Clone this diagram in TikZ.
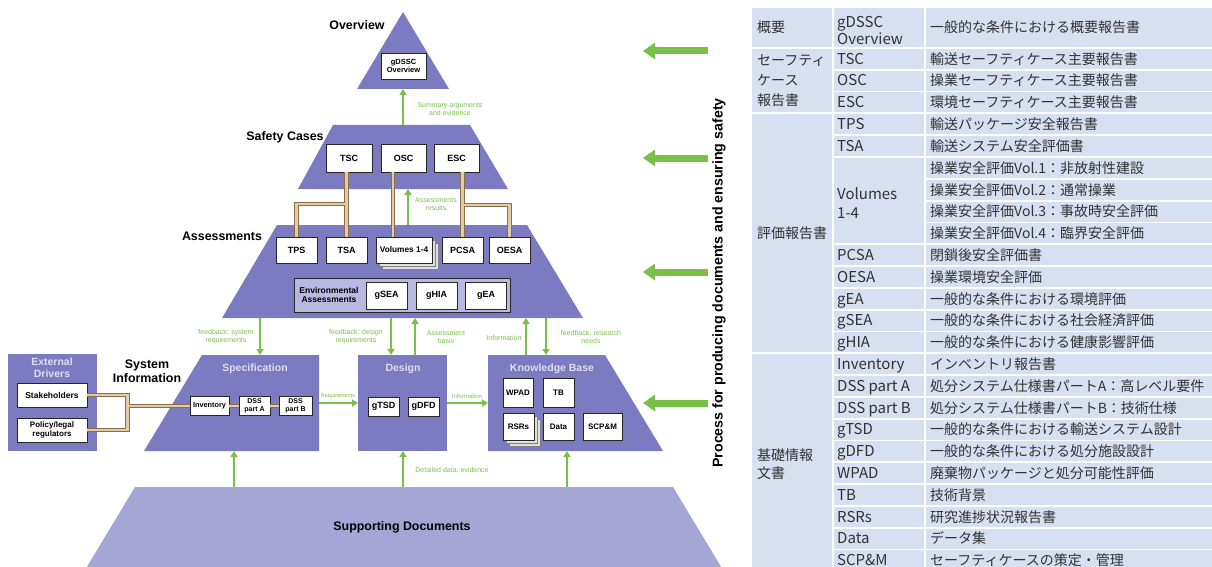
\documentclass[tikz,border=0pt]{standalone}
\usepackage{fontspec}
\setmainfont{Liberation Sans}
\newfontfamily\jp{Noto Sans CJK JP}
\usetikzlibrary{arrows.meta,calc}
\definecolor{pur}{RGB}{124,122,192}
\definecolor{purlight}{RGB}{165,165,214}
\definecolor{envfill}{RGB}{184,184,226}
\definecolor{titlec}{RGB}{222,222,244}
\definecolor{grn}{RGB}{122,192,72}
\definecolor{tanout}{RGB}{140,110,72}
\definecolor{tanin}{RGB}{224,204,166}
\definecolor{cellc}{RGB}{214,224,241}
\definecolor{tx}{RGB}{50,50,50}
\begin{document}
\begin{tikzpicture}[x=1pt,y=-1pt,
  box/.style={draw=black!85,line width=0.9pt,fill=white,font=\bfseries\fontsize{9}{10}\selectfont,inner sep=0pt,align=center},
  tier/.style={font=\bfseries\fontsize{12.4}{14}\selectfont,text=black,align=center},
  ttl/.style={font=\bfseries\fontsize{10.5}{12}\selectfont,text=titlec,align=center},
  glab/.style={font=\fontsize{7}{8}\selectfont,text=grn,align=center,inner sep=0pt},
  garrow/.style={draw=grn,line width=1.6pt,-{Triangle[length=6pt,width=7pt]}},
  bigarrow/.style={draw=grn,line width=7pt,-{Triangle[length=12pt,width=16pt]}},
  tanO/.style={draw=tanout,line width=4.4pt},
  tanI/.style={draw=tanin,line width=2.2pt},
  shad/.style={draw=black!50,fill=black!12,line width=0.6pt},
  sep/.style={draw=white,line width=1.8pt},
  tjp/.style={font=\jp\fontsize{14}{16}\selectfont,text=tx,anchor=base west,inner sep=0pt},
  tlat/.style={font=\jp\fontsize{15}{16}\selectfont,text=tx,anchor=base west,inner sep=0pt},
]
\useasboundingbox (0,0) rectangle (1212,567);

% ---------- tiers ----------
\fill[pur] (403,12) -- (449,89) -- (357,89) -- cycle;
\fill[pur] (333,125) -- (470,125) -- (508,189) -- (298,189) -- cycle;
\fill[pur] (277,225) -- (527,225) -- (583,318) -- (222,318) -- cycle;
\fill[pur] (202,355) -- (319,355) -- (319,451) -- (144,451) -- cycle;
\fill[pur] (358,355) rectangle (447,451);
\fill[pur] (488,355) -- (605,355) -- (663,451) -- (488,451) -- cycle;
\fill[pur] (8,354) rectangle (97,451);
\fill[purlight] (135,487) -- (673,487) -- (723,570) -- (85,570) -- cycle;

% ---------- tier labels ----------
\node[tier] (tOver) at (357,25) {Overview};
\node[tier] (tSafe) at (285,137) {Safety Cases};
\node[tier] (tAss) at (222,236) {Assessments};
\node[tier] (tSys) at (147,371) {System\\Information};
\node[tier] (tSup) at (402,527) {Supporting Documents};
\node[ttl] (tExt) at (52,368) {External\\Drivers};
\node[ttl] (tSpec) at (255,369) {Specification};
\node[ttl] (tDes) at (403,369) {Design};
\node[ttl] (tKB) at (552,369) {Knowledge Base};

% ---------- stacked shadows ----------
\draw[shad] (382,243) rectangle (438,269);
\draw[shad] (379,240) rectangle (435,266);
\draw[shad] (509,419) rectangle (540,446);
\draw[shad] (506,416) rectangle (537,443);

% ---------- boxes ----------
\node[box,minimum width=45,minimum height=26,font=\bfseries\fontsize{7.5}{8.5}\selectfont] (gdssc) at (403.5,66) {gDSSC\\Overview};
\node[box,minimum width=46,minimum height=28] (tsc) at (349,158) {TSC};
\node[box,minimum width=45,minimum height=28] (osc) at (403.5,158) {OSC};
\node[box,minimum width=45,minimum height=28] (esc) at (456.5,158) {ESC};
\node[box,minimum width=41,minimum height=26] (tps) at (296.5,250) {TPS};
\node[box,minimum width=41,minimum height=26] (tsa) at (346.5,250) {TSA};
\node[box,minimum width=56,minimum height=26,font=\bfseries\fontsize{8.3}{9}\selectfont] (vol) at (404,250) {Volumes 1-4};
\node[box,minimum width=41,minimum height=26] (pcsa) at (462.5,250) {PCSA};
\node[box,minimum width=41,minimum height=26] (oesa) at (509.5,250) {OESA};
\node[box,fill=envfill,minimum width=216,minimum height=34] (envbox) at (402,295) {};
\node[font=\bfseries\fontsize{8.5}{9.5}\selectfont,align=center,inner sep=0pt] (envtxt) at (329,295) {Environmental\\Assessments};
\node[box,minimum width=41,minimum height=27] (gsea) at (386.5,295.5) {gSEA};
\node[box,minimum width=41,minimum height=27] (ghia) at (436.5,295.5) {gHIA};
\node[box,minimum width=41,minimum height=27] (gea) at (486,295.5) {gEA};

\node[box,minimum width=70,minimum height=24,font=\bfseries\fontsize{8.5}{9.5}\selectfont] (stk) at (52,395) {Stakeholders};
\node[box,minimum width=70,minimum height=24,font=\bfseries\fontsize{8}{9}\selectfont] (pol) at (52,430) {Policy/legal\\regulators};
\node[box,minimum width=39,minimum height=19,font=\bfseries\fontsize{7.3}{8}\selectfont] (inv) at (209.5,406) {Inventory};
\node[box,minimum width=31,minimum height=19,font=\bfseries\fontsize{7}{7.6}\selectfont] (dssa) at (254.5,406) {DSS\\part A};
\node[box,minimum width=33,minimum height=19,font=\bfseries\fontsize{7}{7.6}\selectfont] (dssb) at (295.5,406) {DSS\\part B};
\node[box,minimum width=31,minimum height=19] (gtsd) at (383.5,406.5) {gTSD};
\node[box,minimum width=31,minimum height=19] (gdfd) at (423.5,406.5) {gDFD};
\node[box,minimum width=30,minimum height=29,font=\bfseries\fontsize{8}{9}\selectfont] (wpad) at (518,392.5) {WPAD};
\node[box,minimum width=31,minimum height=29,font=\bfseries\fontsize{8}{9}\selectfont] (tb) at (558.5,392.5) {TB};
\node[box,minimum width=31,minimum height=27,font=\bfseries\fontsize{8}{9}\selectfont] (rsrs) at (518.5,426.5) {RSRs};
\node[box,minimum width=31,minimum height=27,font=\bfseries\fontsize{8}{9}\selectfont] (data) at (558.5,426.5) {Data};
\node[box,minimum width=39,minimum height=27,font=\bfseries\fontsize{8}{9}\selectfont] (scpm) at (602.5,426.5) {SCP\&M};

% ---------- tan connectors ----------
\coordinate (vtop) at (393,237);
\foreach \st in {tanO,tanI}{
  \draw[\st] (tsa.north |- tsc.south) -- (tsa.north);
  \draw[\st] (tsa.north |- 0,204) -- (tps.north |- 0,204) -- (tps.north);
  \draw[\st] (vtop |- osc.south) -- (vtop);
  \draw[\st] (pcsa.north |- esc.south) -- (pcsa.north);
  \draw[\st] (pcsa.north |- 0,205) -- (oesa.north |- 0,205) -- (oesa.north);
  \draw[\st] (stk.east) -- ++(40,0) |- (pol.east);
  \draw[\st] (127,406) -- (inv.west);
  \draw[\st] (inv.east) -- (dssa.west);
  \draw[\st] (dssa.east) -- (dssb.west);
}

% ---------- green flow arrows ----------
\draw[garrow] (403,125) -- (403,89);
\node[glab] (lSum) at (450,109) {Summary arguments\\and evidence};
\draw[garrow] (408,225) -- (408,189);
\node[glab] (lAr) at (436,204) {Assessments\\results};
\draw[garrow] (260,318) -- (260,355);
\node[glab] (lSr) at (226,337) {feedback: system\\requirements};
\draw[garrow] (391,318) -- (391,355);
\node[glab] (lDr) at (356,337) {feedback: design\\requirements};
\draw[garrow] (415,355) -- (415,318);
\node[glab] (lAb) at (446,337) {Assessment\\basis};
\draw[garrow] (526,355) -- (526,318);
\node[glab] (lInf) at (504,338) {Information};
\draw[garrow] (546,318) -- (546,355);
\node[glab] (lRn) at (591,337) {feedback: research\\needs};
\draw[garrow] (319,403) -- (358,403);
\node[glab,font=\fontsize{5.5}{6}\selectfont] (lReq) at (338,396) {Requirements};
\draw[garrow] (447,403) -- (488,403);
\node[glab,font=\fontsize{6}{6.5}\selectfont] (lInf2) at (467,396) {Information};
\draw[garrow] (234,487) -- (234,451);
\draw[garrow] (403,487) -- (403,451);
\node[glab] (lDd) at (452,470) {Detailed data, evidence};
\draw[garrow] (567,487) -- (567,451);

% ---------- process arrows ----------
\draw[bigarrow] (708,51) -- (643,51);
\draw[bigarrow] (708,158) -- (643,158);
\draw[bigarrow] (708,272) -- (643,272);
\draw[bigarrow] (708,403) -- (643,403);
\node[rotate=90,font=\bfseries\fontsize{14.2}{16}\selectfont] (proc) at (719,283) {Process for producing documents and ensuring safety};

% ---------- table ----------
\fill[cellc] (752,8) rectangle (1214,570);
\draw[sep] (833,8) -- (833,570);
\draw[sep] (925,8) -- (925,570);
\draw[sep] (752,48) -- (1214,48);
\draw[sep] (752,113.4) -- (833,113.4);
\draw[sep] (752,353.2) -- (833,353.2);
\foreach \k in {1,...,23} \draw[sep] (925,{48+\k*21.8}) -- (1214,{48+\k*21.8});
\foreach \k in {1,2,3,4,5,9,10,...,23} \draw[sep] (833,{48+\k*21.8}) -- (925,{48+\k*21.8});

\node[tjp] (h1) at (757,33) {概要};
\node[tlat] (h2a) at (837,28) {gDSSC};
\node[tlat] (h2b) at (837,45) {Overview};
\node[tjp] (h3) at (930,33) {一般的な条件における概要報告書};
\node[tjp] (g1a) at (757,66) {セーフティ};
\node[tjp] (g1b) at (757,86) {ケース};
\node[tjp] (g1c) at (757,106) {報告書};
\node[tjp] (g2) at (757,238.5) {評価報告書};
\node[tlat] (g3a) at (837,199) {Volumes};
\node[tlat] (g3b) at (837,218) {1-4};
\node[tjp] (g4a) at (757,460) {基礎情報};
\node[tjp] (g4b) at (757,478) {文書};

\foreach \k/\a/\b in {0/TSC/輸送セーフティケース主要報告書,
  1/OSC/操業セーフティケース主要報告書,
  2/ESC/環境セーフティケース主要報告書,
  3/TPS/輸送パッケージ安全報告書,
  4/TSA/輸送システム安全評価書,
  9/PCSA/閉鎖後安全評価書,
  10/OESA/操業環境安全評価,
  11/gEA/一般的な条件における環境評価,
  12/gSEA/一般的な条件における社会経済評価,
  13/gHIA/一般的な条件における健康影響評価,
  14/Inventory/インベントリ報告書,
  15/DSS part A/処分システム仕様書パートA：高レベル要件,
  16/DSS part B/処分システム仕様書パートB：技術仕様,
  17/gTSD/一般的な条件における輸送システム設計,
  18/gDFD/一般的な条件における処分施設設計,
  19/WPAD/廃棄物パッケージと処分可能性評価,
  20/TB/技術背景,
  21/RSRs/研究進捗状況報告書,
  22/Data/データ集,
  23/SCP\&M/セーフティケースの策定・管理}{
  \node[tlat] (a\k) at (837,{48+(\k+0.5)*21.8+5.3}) {\a};
  \node[tjp] (b\k) at (930,{48+(\k+0.5)*21.8+5.3}) {\b};
}
\foreach \k/\b in {5/操業安全評価Vol.1：非放射性建設,
  6/操業安全評価Vol.2：通常操業,
  7/操業安全評価Vol.3：事故時安全評価,
  8/操業安全評価Vol.4：臨界安全評価}{
  \node[tjp] (b\k) at (930,{48+(\k+0.5)*21.8+5.3}) {\b};
}
\end{tikzpicture}
\end{document}
